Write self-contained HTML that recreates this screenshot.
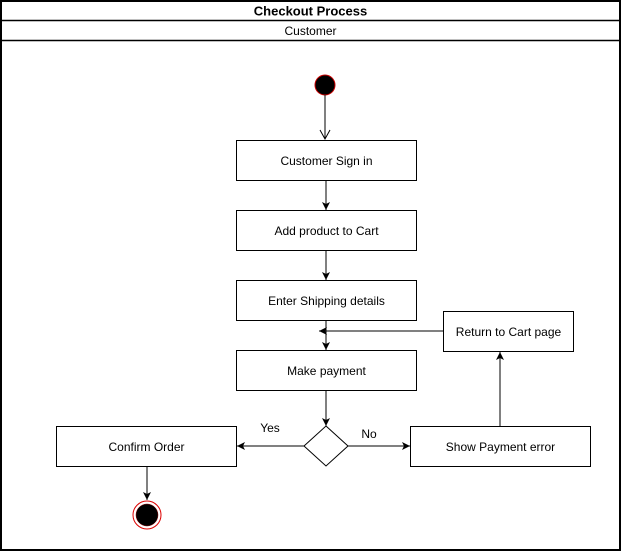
<!DOCTYPE html>
<html><head><meta charset="utf-8"><style>
html,body{margin:0;padding:0;background:#fff;width:621px;height:551px;overflow:hidden}
</style></head><body>
<svg width="621" height="551" xmlns="http://www.w3.org/2000/svg" font-family="Liberation Sans, Arial, sans-serif">
<defs>
<marker id="a" markerWidth="10" markerHeight="10" refX="8" refY="5" orient="auto" markerUnits="userSpaceOnUse">
<path d="M0,1 L8,5 L0,9 L2,5 Z" fill="#000"/>
</marker>
<marker id="o" markerWidth="12" markerHeight="12" refX="10" refY="6" orient="auto" markerUnits="userSpaceOnUse">
<path d="M1,1 L10,6 L1,11" fill="none" stroke="#000" stroke-width="1"/>
</marker>
</defs>
<rect x="1" y="1" width="619" height="549" fill="#fff" stroke="#000" stroke-width="2"/>
<line x1="1" y1="20.5" x2="620" y2="20.5" stroke="#000" stroke-width="1.5"/>
<line x1="1" y1="40.5" x2="620" y2="40.5" stroke="#000" stroke-width="1.5"/>
<text x="310.5" y="15.5" font-size="13" font-weight="bold" text-anchor="middle">Checkout Process</text>
<text x="310.5" y="35" font-size="12" text-anchor="middle">Customer</text>

<circle cx="325" cy="85" r="10" fill="#000" stroke="#c00" stroke-width="1"/>
<line x1="325" y1="95" x2="325" y2="139" stroke="#000" marker-end="url(#o)"/>

<g fill="#fff" stroke="#000" stroke-width="1">
<rect x="236.5" y="140.5" width="180" height="40"/>
<rect x="236.5" y="210.5" width="180" height="40"/>
<rect x="236.5" y="280.5" width="180" height="40"/>
<rect x="236.5" y="350.5" width="180" height="40"/>
<rect x="443.5" y="311.5" width="130" height="40"/>
<rect x="56.5" y="426.5" width="180" height="40"/>
<rect x="410.5" y="426.5" width="180" height="40"/>
<path d="M326,426 L348,446 L326,466 L304,446 Z"/>
</g>
<g font-size="12" text-anchor="middle">
<text x="326.5" y="165">Customer Sign in</text>
<text x="326.5" y="235">Add product to Cart</text>
<text x="326.5" y="305">Enter Shipping details</text>
<text x="326.5" y="375">Make payment</text>
<text x="508.5" y="336">Return to Cart page</text>
<text x="146.5" y="451">Confirm Order</text>
<text x="500.5" y="451">Show Payment error</text>
<text x="270" y="432">Yes</text>
<text x="369" y="438">No</text>
</g>
<g stroke="#000" stroke-width="1" fill="none">
<line x1="326" y1="181" x2="326" y2="210" marker-end="url(#a)"/>
<line x1="326" y1="251" x2="326" y2="280" marker-end="url(#a)"/>
<line x1="326" y1="321" x2="326" y2="350" marker-end="url(#a)"/>
<line x1="443" y1="331" x2="319" y2="331" marker-end="url(#a)"/>
<line x1="326" y1="391" x2="326" y2="426" marker-end="url(#a)"/>
<line x1="304" y1="446" x2="237" y2="446" marker-end="url(#a)"/>
<line x1="348" y1="446" x2="410" y2="446" marker-end="url(#a)"/>
<line x1="500" y1="426" x2="500" y2="352" marker-end="url(#a)"/>
<line x1="147" y1="467" x2="147" y2="500" marker-end="url(#a)"/>
</g>
<circle cx="147" cy="515" r="14" fill="#fff" stroke="#d00" stroke-width="1"/>
<circle cx="147" cy="515" r="11" fill="#000" stroke="#800" stroke-width="0.5"/>
</svg>
</body></html>
